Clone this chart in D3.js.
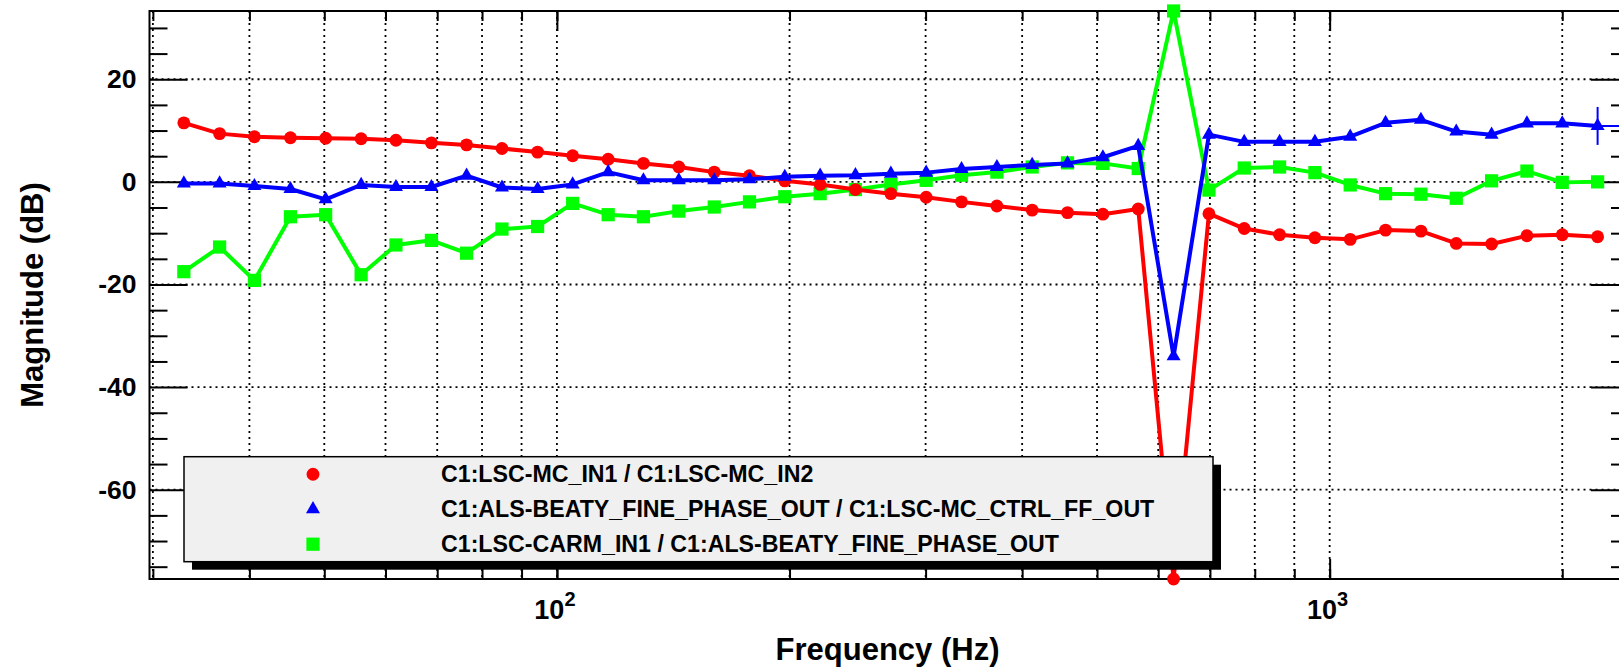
<!DOCTYPE html>
<html lang="en">
<head>
<meta charset="UTF-8">
<title>Magnitude</title>
<script src="https://cdn.jsdelivr.net/npm/d3@7"></script>
<style>
  body { margin: 0; background: #fff; }
  svg text { font-family: "Liberation Sans", Arial, Helvetica, sans-serif; font-weight: bold; fill: #000; }
</style>
</head>
<body>
<svg id="chart" width="1619" height="670"></svg>
<script>

    // frequency points (Hz)
    const freqs = [32.9, 36.6, 40.6, 45.2, 50.2, 55.8, 61.9, 68.8, 76.4, 84.9,
        94.4, 104.8, 116.5, 129.4, 143.8, 159.8, 177.5, 197.2, 219.1, 243.4,
        270.5, 300.5, 333.9, 371.0, 412.1, 457.9, 508.8, 565.3, 628.1, 697.9,
        775.3, 861.4, 957.0, 1063.2, 1181.3, 1312.5, 1458.3, 1620.2, 1800.1, 2000.0, 2222.1];

    // magnitudes (dB)
    const mcIn = [11.5, 9.4, 8.8, 8.6, 8.5, 8.4, 8.1, 7.6, 7.2, 6.5,
        5.8, 5.1, 4.4, 3.6, 2.9, 1.9, 1.2, 0.2, -0.5, -1.5,
        -2.3, -3.0, -3.9, -4.7, -5.5, -6.0, -6.3, -5.3, -77.4, -6.2,
        -9.1, -10.3, -10.9, -11.2, -9.4, -9.6, -12.0, -12.1, -10.5, -10.3, -10.7];
    const finePhase = [-0.3, -0.3, -0.8, -1.4, -3.4, -0.6, -1.0, -1.0, 1.2, -1.1,
        -1.4, -0.5, 1.9, 0.3, 0.3, 0.3, 0.5, 1.0, 1.2, 1.3,
        1.6, 1.8, 2.5, 2.9, 3.3, 3.6, 4.8, 7.0, -34.0, 9.2,
        7.8, 7.8, 7.8, 8.8, 11.5, 12.1, 9.8, 9.2, 11.4, 11.4, 10.9];
    const carm = [-17.5, -12.7, -19.2, -6.8, -6.4, -18.1, -12.3, -11.4, -13.9, -9.2,
        -8.7, -4.2, -6.4, -6.8, -5.7, -4.9, -3.9, -2.9, -2.3, -1.5,
        -0.5, 0.3, 1.3, 1.9, 2.9, 3.7, 3.6, 2.6, 33.3, -1.6,
        2.7, 2.9, 1.8, -0.6, -2.3, -2.4, -3.2, 0.2, 2.1, -0.1, 0.0];
    const fineLastErr = 3.7;

    const legendLabels = [
        "C1:LSC-MC_IN1 / C1:LSC-MC_IN2",
        "C1:ALS-BEATY_FINE_PHASE_OUT / C1:LSC-MC_CTRL_FF_OUT",
        "C1:LSC-CARM_IN1 / C1:ALS-BEATY_FINE_PHASE_OUT"
    ];
    const yMajor = [-60, -40, -20, 0, 20];
    const yMinor = [-75, -70, -65, -55, -50, -45, -35, -30, -25, -15, -10, -5, 5, 10, 15, 25, 30];
    const xMajor = [100, 1000];
    const xMajorExp = ["2", "3"];

    const svg = d3.select("#chart");
    const pLeft = 149.5, pRight = 1629, pTop = 11, pBottom = 579;

    const x = d3.scaleLog().domain([29.7, 2440]).range([pLeft, pRight]);
    const y = d3.scaleLinear().domain([-77.4, 33.3]).range([pBottom, pTop]);

    svg.append("rect").attr("width", 1619).attr("height", 670).attr("fill", "#fff");

    // grid
    const grid = svg.append("g")
        .attr("stroke", "#000")
        .attr("stroke-width", 1.8)
        .attr("stroke-dasharray", "2,4");
    grid.selectAll("line.v")
        .data(x.ticks())
        .enter()
        .append("line")
        .attr("x1", d => x(d)).attr("x2", d => x(d))
        .attr("y1", pTop).attr("y2", pBottom);
    grid.selectAll("line.h")
        .data(yMajor)
        .enter()
        .append("line")
        .attr("x1", pLeft).attr("x2", pRight)
        .attr("y1", d => y(d)).attr("y2", d => y(d));

    // ticks, all pointing inward
    function tickAxis(axis, tx, ty) {
        const g = svg.append("g")
            .attr("transform", "translate(" + tx + "," + ty + ")")
            .call(axis);
        g.select(".domain").remove();
        g.selectAll("line").attr("stroke", "#000").attr("stroke-width", 2);
        return g;
    }
    tickAxis(d3.axisTop(x).tickValues(x.ticks()).tickSize(10).tickFormat(""), 0, pBottom);
    tickAxis(d3.axisTop(x).tickValues(xMajor).tickSize(20).tickFormat(""), 0, pBottom);
    tickAxis(d3.axisBottom(x).tickValues(x.ticks()).tickSize(10).tickFormat(""), 0, pTop);
    tickAxis(d3.axisBottom(x).tickValues(xMajor).tickSize(20).tickFormat(""), 0, pTop);
    tickAxis(d3.axisRight(y).tickValues(yMinor).tickSize(18).tickFormat(""), pLeft, 0);
    tickAxis(d3.axisLeft(y).tickValues(yMinor).tickSize(18).tickFormat(""), pRight, 0);
    tickAxis(d3.axisLeft(y).tickValues(yMajor).tickSize(38).tickFormat(""), pRight, 0);

    const yAxis = tickAxis(d3.axisLeft(y).tickValues(yMajor).tickSizeInner(-38).tickSizeOuter(0)
        .tickPadding(13).tickFormat(d => String(d)), pLeft, 0);
    yAxis.selectAll("text")
        .attr("font-size", 26.5)
        .attr("font-family", "Liberation Sans, Arial, sans-serif")
        .attr("font-weight", "bold")
        .attr("fill", "#000");

    // x labels 10^n
    const xl = svg.selectAll("text.xl")
        .data(xMajor)
        .enter()
        .append("text")
        .attr("class", "xl")
        .attr("x", d => x(d) - 2)
        .attr("y", 619)
        .attr("text-anchor", "middle")
        .attr("font-size", 27);
    xl.append("tspan").text("10");
    xl.append("tspan")
        .attr("dy", -13)
        .attr("font-size", 20)
        .text((d, i) => xMajorExp[i]);

    // frame
    svg.append("rect")
        .attr("x", pLeft).attr("y", pTop)
        .attr("width", pRight - pLeft).attr("height", pBottom - pTop)
        .attr("fill", "none")
        .attr("stroke", "#000")
        .attr("stroke-width", 2);

    // axis titles
    svg.append("text")
        .attr("x", 887.5)
        .attr("y", 660)
        .attr("text-anchor", "middle")
        .attr("font-size", 31)
        .text("Frequency (Hz)");
    svg.append("text")
        .attr("transform", "translate(43," + ((pTop + pBottom) / 2) + ") rotate(-90)")
        .attr("text-anchor", "middle")
        .attr("font-size", 31)
        .text("Magnitude (dB)");

    // series
    const series = [
        {vals: carm, color: "#00ff00", sym: d3.symbolSquare, size: 175},
        {vals: mcIn, color: "#ff0000", sym: d3.symbolCircle, size: 130},
        {vals: finePhase, color: "#0000ff", sym: d3.symbolTriangle, size: 85}
    ];
    const line = d3.line()
        .x(d => x(d[0]))
        .y(d => y(d[1]));

    series.forEach(function(s) {
        const pts = freqs.map((f, i) => [f, s.vals[i]]);
        svg.append("path")
            .datum(pts)
            .attr("d", line)
            .attr("fill", "none")
            .attr("stroke", s.color)
            .attr("stroke-width", 4)
            .attr("stroke-linejoin", "round");
        svg.append("g")
            .selectAll("path")
            .data(pts)
            .enter()
            .append("path")
            .attr("transform", d => "translate(" + x(d[0]) + "," + y(d[1]) + ")")
            .attr("d", d3.symbol().type(s.sym).size(s.size))
            .attr("fill", s.color);
    });

    // error cross on last blue point
    const lastF = freqs[freqs.length - 1], lastV = finePhase[finePhase.length - 1];
    svg.append("line")
        .attr("x1", x(lastF)).attr("x2", x(lastF))
        .attr("y1", y(lastV + fineLastErr)).attr("y2", y(lastV - fineLastErr))
        .attr("stroke", "#0000ff").attr("stroke-width", 2);
    svg.append("line")
        .attr("x1", x(lastF) - 4).attr("x2", pRight)
        .attr("y1", y(lastV)).attr("y2", y(lastV))
        .attr("stroke", "#0000ff").attr("stroke-width", 2);

    // legend
    const lg = {x: 184, y: 456.7, w: 1029, h: 105};
    svg.append("rect")
        .attr("x", lg.x + 8).attr("y", lg.y + 8)
        .attr("width", lg.w).attr("height", lg.h)
        .attr("fill", "#000");
    svg.append("rect")
        .attr("x", lg.x).attr("y", lg.y)
        .attr("width", lg.w).attr("height", lg.h)
        .attr("fill", "#f0f0f0")
        .attr("stroke", "#000")
        .attr("stroke-width", 1.5);
    const legendSeries = [series[1], series[2], series[0]];
    const rowH = lg.h / 3;
    svg.selectAll("path.lgm")
        .data(legendSeries)
        .enter()
        .append("path")
        .attr("transform", (d, i) => "translate(313," + (lg.y + rowH * (i + 0.5)) + ")")
        .attr("d", d => d3.symbol().type(d.sym).size(d.size)())
        .attr("fill", d => d.color);
    svg.selectAll("text.lgt")
        .data(legendLabels)
        .enter()
        .append("text")
        .attr("x", 441)
        .attr("y", (d, i) => lg.y + rowH * (i + 0.5) + 8)
        .attr("font-size", 23.2)
        .text(d => d);

</script>
</body>
</html>
